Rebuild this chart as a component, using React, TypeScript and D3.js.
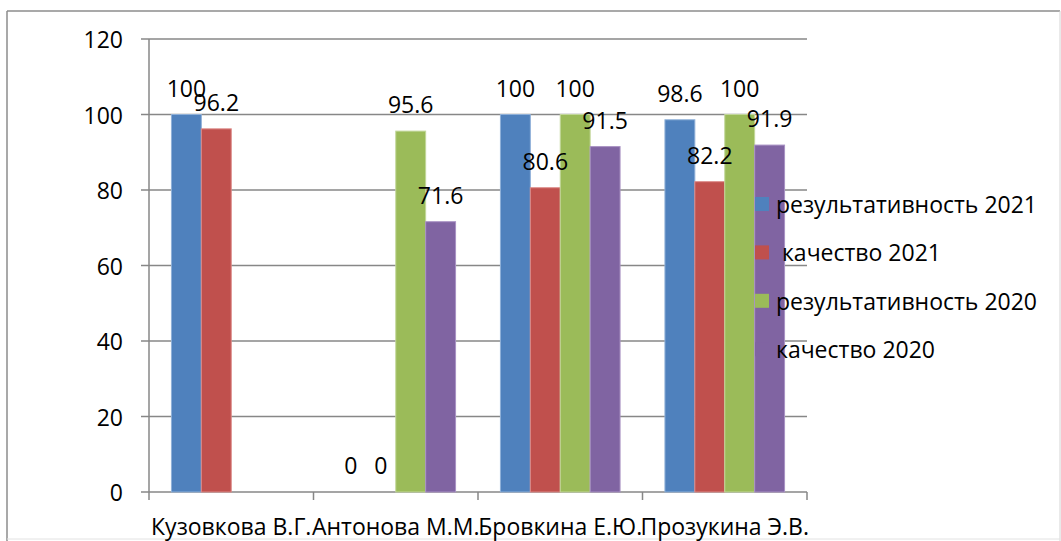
import React from "react";
import * as d3 from "d3";

const categories = ["Кузовкова В.Г.", "Антонова М.М.", "Бровкина Е.Ю.", "Прозукина Э.В."];
const seriesNames = ["результативность 2021", " качество 2021", "результативность 2020", "качество 2020"];
const seriesColors = ["#4F81BD", "#C0504D", "#9BBB59", "#8064A2"];
const seriesStrokes = ["#8fb0d8", "#dc8a88", "#c2d79a", "#a992c4"];
const res2021: (number | null)[] = [100, 0, 100, 98.6];
const qual2021: (number | null)[] = [96.2, 0, 80.6, 82.2];
const res2020: (number | null)[] = [null, 95.6, 100, 100];
const qual2020: (number | null)[] = [null, 71.6, 91.5, 91.9];
const yTicks = [0, 20, 40, 60, 80, 100, 120];

const seriesValues = [res2021, qual2021, res2020, qual2020];

const W = 1061;
const H = 541;
const FONT = "'Open Sans', 'Noto Sans', sans-serif";
const FS = 23;

export default function App() {
  const plotLeft = 149;
  const plotRight = 807;
  const plotTop = 39;
  const plotBottom = 492;

  const x = d3.scaleBand<string>().domain(categories).range([plotLeft, plotRight]).paddingInner(0).paddingOuter(0);
  const xs = d3
    .scaleBand<number>()
    .domain(d3.range(seriesValues.length))
    .range([0, x.bandwidth()])
    .paddingInner(0)
    .paddingOuter(0.75);
  const y = d3.scaleLinear().domain([0, 120]).range([plotBottom, plotTop]);

  const gridColor = "#878787";
  const catEdges = categories.map((c) => x(c) as number).concat([plotRight]);

  return (
    <svg
      width={W}
      height={H}
      style={{ position: "absolute", left: 0, top: 0, background: "#fff" }}
      fontFamily={FONT}
    >
      <rect x={0} y={0} width={W} height={H} fill="#fff" />
      {/* outer border */}
      <line x1={7} y1={11} x2={1060} y2={11} stroke="#8c8c8c" strokeWidth={1.5} />
      <line x1={7} y1={11} x2={7} y2={541} stroke="#8c8c8c" strokeWidth={1.5} />
      <line x1={1060} y1={11} x2={1060} y2={541} stroke="#d4d4d4" strokeWidth={1} />
      <line x1={7} y1={539} x2={1060} y2={539} stroke="#e2e2e2" strokeWidth={1} />

      {/* gridlines + y ticks */}
      {yTicks.map((t) => (
        <g key={t}>
          <line x1={plotLeft - 8} x2={plotRight} y1={y(t)} y2={y(t)} stroke={gridColor} strokeWidth={1.5} />
          <text x={123} y={y(t)} textAnchor="end" dominantBaseline="central" fontSize={FS} fill="#000">
            {t}
          </text>
        </g>
      ))}
      {/* y axis */}
      <line x1={plotLeft} x2={plotLeft} y1={plotTop} y2={plotBottom} stroke={gridColor} strokeWidth={1.5} />
      {/* x tick marks */}
      {catEdges.map((e, i) => (
        <line key={i} x1={e} x2={e} y1={plotBottom} y2={plotBottom + 8} stroke={gridColor} strokeWidth={1.5} />
      ))}

      {/* bars */}
      {seriesValues.map((vals, si) =>
        vals.map((v, ci) =>
          v === null ? null : (
            <rect
              key={`b${si}-${ci}`}
              x={(x(categories[ci]) as number) + (xs(si) as number)}
              y={y(v)}
              width={xs.bandwidth()}
              height={plotBottom - y(v)}
              fill={seriesColors[si]}
              stroke={v > 0 ? seriesStrokes[si] : "none"}
              strokeWidth={1}
            />
          )
        )
      )}

      {/* data labels */}
      {seriesValues.map((vals, si) =>
        vals.map((v, ci) =>
          v === null ? null : (
            <text
              key={`l${si}-${ci}`}
              x={(x(categories[ci]) as number) + (xs(si) as number) + xs.bandwidth() / 2}
              y={y(v) - 18}
              textAnchor="middle"
              fontSize={FS}
              fill="#000"
            >
              {String(v)}
            </text>
          )
        )
      )}

      {/* category labels */}
      {categories.map((c) => (
        <text
          key={c}
          x={(x(c) as number) + x.bandwidth() / 2}
          y={535}
          textAnchor="middle"
          fontSize={FS}
          fill="#000"
        >
          {c}
        </text>
      ))}

      {/* legend */}
      {seriesNames.map((n, i) => {
        const cy = 204 + i * 48.4;
        return (
          <g key={n}>
            <rect x={755} y={cy - 7} width={14} height={14} fill={seriesColors[i]} />
            <text x={776} y={cy} dominantBaseline="central" fontSize={FS} fill="#000" style={{ whiteSpace: "pre" }}>
              {n}
            </text>
          </g>
        );
      })}
    </svg>
  );
}
